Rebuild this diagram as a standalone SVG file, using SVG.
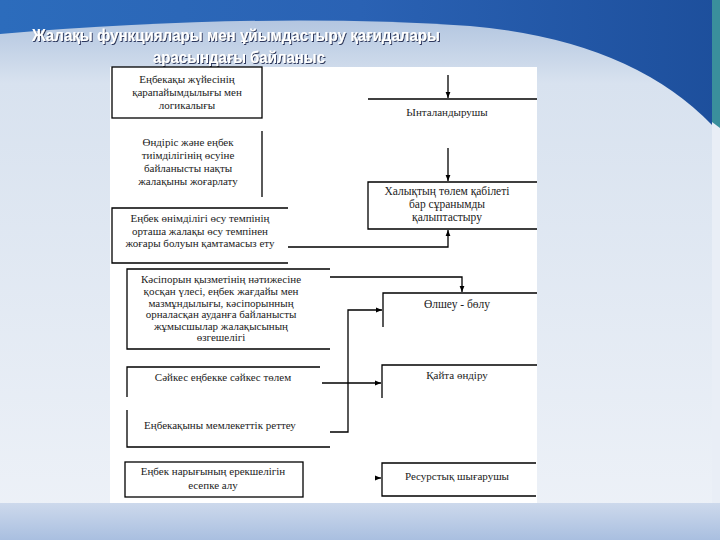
<svg xmlns="http://www.w3.org/2000/svg" width="720" height="540" viewBox="0 0 720 540">
<defs>
<linearGradient id="bgTop" x1="0" y1="0" x2="1" y2="0">
<stop offset="0" stop-color="#2c6cbc"/>
<stop offset="0.5" stop-color="#2a62b4"/>
<stop offset="1" stop-color="#1d4f9c"/>
</linearGradient>
<linearGradient id="bgLight" x1="0" y1="0" x2="0" y2="1">
<stop offset="0" stop-color="#b3c6e0"/>
<stop offset="0.12" stop-color="#d8e2ef"/>
<stop offset="1" stop-color="#eef2f8"/>
</linearGradient>
<linearGradient id="bgBottom" x1="0" y1="0" x2="0" y2="1">
<stop offset="0" stop-color="#cdd9ec"/>
<stop offset="1" stop-color="#a9bfe0"/>
</linearGradient>
<marker id="arr" viewBox="0 0 10 10" refX="10" refY="5" markerWidth="6" markerHeight="6" markerUnits="userSpaceOnUse" orient="auto">
<path d="M0,1 L10,5 L0,9 Z" fill="#000"/>
</marker>
<filter id="sh" x="-5%" y="-20%" width="110%" height="140%">
<feDropShadow dx="1" dy="1" stdDeviation="0.6" flood-color="#1a2c50" flood-opacity="0.9"/>
</filter>
</defs>
<style>
.ln{fill:none;stroke:#000;stroke-width:1.3}
.t{font-family:"Liberation Serif","Times New Roman",serif;font-size:11px;fill:#222;text-anchor:middle}
.tb{font-family:"Liberation Serif","Times New Roman",serif;font-size:11.5px;fill:#222;text-anchor:middle}
.title{font-family:"Liberation Sans",Arial,sans-serif;font-size:17px;font-weight:bold;fill:#fff;text-anchor:middle}
</style>
<rect x="0" y="0" width="720" height="540" fill="url(#bgTop)"/>
<path d="M0,34 Q260,12 470,26 Q630,40 712,125 L712,540 L0,540 Z" fill="url(#bgLight)"/>
<rect x="712" y="0" width="8" height="540" fill="#e9eef6"/>
<path d="M712,0 H720 V128 L712,122 Z" fill="#3a8f9c"/>
<rect x="0" y="503" width="720" height="37" fill="url(#bgBottom)"/>
<rect x="110" y="67" width="427" height="436" fill="#ffffff"/>

<g id="title" filter="url(#sh)">
<text class="title" x="236" y="41" textLength="408" lengthAdjust="spacingAndGlyphs">Жалақы функциялары мен ұйымдастыру қағидалары</text>
<text class="title" x="239" y="63" textLength="172" lengthAdjust="spacingAndGlyphs">арасындағы байланыс</text>
</g>

<g id="connectors">
<path class="ln" d="M448,75 V98" marker-end="url(#arr)"/>
<path class="ln" d="M448,148 V181" marker-end="url(#arr)"/>
<path class="ln" d="M288,247 H448 V230" marker-end="url(#arr)"/>
<path class="ln" d="M330,277 H462 V292" marker-end="url(#arr)"/>
<path class="ln" d="M330,432 H348 V310 H382" marker-end="url(#arr)"/>
<path class="ln" d="M322,383 H381" marker-end="url(#arr)"/>
<path class="ln" d="M376,478 H381" marker-end="url(#arr)"/>
</g>

<g id="n-simplicity">
<rect class="ln" x="112" y="67" width="150" height="51"/>
<text class="t" x="187" y="83">Еңбекақы жүйесінің</text>
<text class="t" x="187" y="96">қарапайымдылығы мен</text>
<text class="t" x="187" y="109">логикалығы</text>
</g>

<g id="n-real-wage">
<path class="ln" d="M262,131 V197"/>
<text class="t" x="188" y="146">Өндіріс және еңбек</text>
<text class="t" x="188" y="159">тиімділігінің өсуіне</text>
<text class="t" x="188" y="172">байланысты нақты</text>
<text class="t" x="188" y="185">жалақыны жоғарлату</text>
</g>

<g id="n-productivity">
<path class="ln" d="M288,208 H112 V263 H288"/>
<text class="t" x="200" y="222">Еңбек өнімділігі өсу темпінің</text>
<text class="t" x="200" y="235">орташа жалақы өсу темпінен</text>
<text class="t" x="200" y="247">жоғары болуын қамтамасыз ету</text>
</g>

<g id="n-enterprise">
<path class="ln" d="M330,269 H127 V349 H330"/>
<text class="t" x="221" y="283">Кәсіпорын қызметінің нәтижесіне</text>
<text class="t" x="221" y="295">қосқан үлесі, еңбек жағдайы мен</text>
<text class="t" x="221" y="307">мазмұндылығы, кәсіпорынның</text>
<text class="t" x="221" y="318">орналасқан ауданға байланысты</text>
<text class="t" x="221" y="330">жұмысшылар жалақысының</text>
<text class="t" x="221" y="341">өзгешелігі</text>
</g>

<g id="n-equal-pay">
<path class="ln" d="M320,367 H127 V397"/>
<text class="t" x="223" y="381">Сәйкес еңбекке сәйкес төлем</text>
</g>

<g id="n-state">
<path class="ln" d="M127,410 V447 H330"/>
<text class="t" x="220" y="429">Еңбекақыны мемлекеттік реттеу</text>
</g>

<g id="n-market">
<rect class="ln" x="125" y="462" width="178" height="35"/>
<text class="t" x="213" y="475">Еңбек нарығының ерекшелігін</text>
<text class="t" x="213" y="489">есепке алу</text>
</g>

<g id="n-stimulating">
<path class="ln" d="M368,99 H537"/>
<text class="t" x="447" y="116">Ынталандырушы</text>
</g>

<g id="n-demand">
<path class="ln" d="M537,182 H368 V229 H537"/>
<text class="tb" x="447" y="195">Халықтың төлем қабілеті</text>
<text class="tb" x="447" y="208">бар сұранымды</text>
<text class="tb" x="447" y="221">қалыптастыру</text>
</g>

<g id="n-measure">
<path class="ln" d="M537,293 H383 V327"/>
<text class="tb" x="457" y="308">Өлшеу - бөлу</text>
</g>

<g id="n-reproduction">
<path class="ln" d="M537,365 H382 V398"/>
<text class="t" x="457" y="379">Қайта өндіру</text>
</g>

<g id="n-resource">
<path class="ln" d="M536,463 H382 V496 H536"/>
<text class="t" x="457" y="480">Ресурстық шығарушы</text>
</g>
</svg>
